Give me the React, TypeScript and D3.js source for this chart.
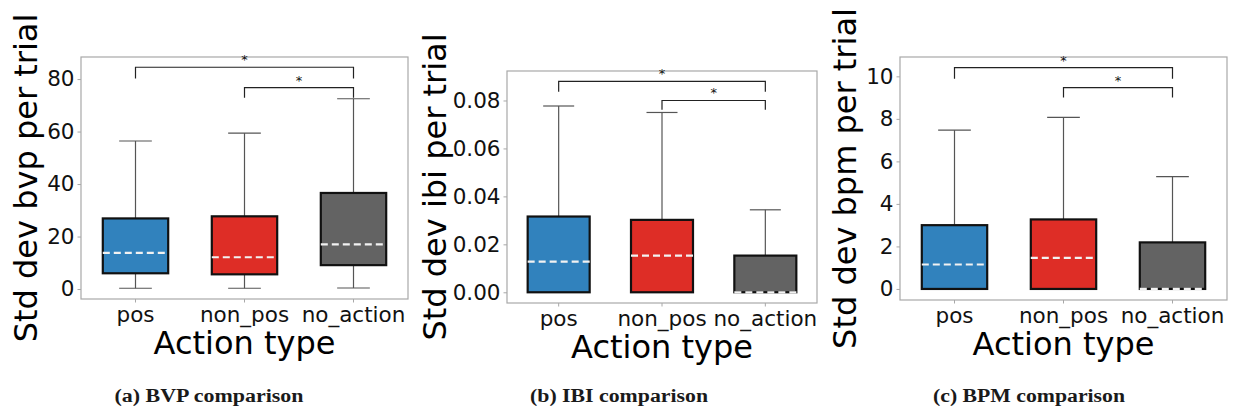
import { useEffect, useRef } from "react";
import { select, scaleBand, scaleLinear, axisLeft, axisBottom } from "d3";

// categories + colours
const categories = ["pos", "non_pos", "no_action"];
const boxColors = ["#3182bd", "#de2d26", "#636363"];

// box stats per category: [low whisker, q1, median, q3, high whisker]
const bvpStats = [
  [0.3, 6.0, 13.8, 26.9, 56.4],
  [0.3, 5.6, 12.1, 27.7, 59.4],
  [0.4, 9.1, 17.0, 36.6, 72.5],
];
const ibiStats = [
  [0, 0, 0.0128, 0.0316, 0.0777],
  [0, 0, 0.0153, 0.0302, 0.075],
  [0, 0, 0, 0.0153, 0.0344],
];
const bpmStats = [
  [0, 0, 1.15, 3.0, 7.47],
  [0, 0, 1.46, 3.27, 8.07],
  [0, 0, 0, 2.19, 5.28],
];

// y ticks
const bvpTicks = [0, 20, 40, 60, 80];
const ibiTicks = [0, 0.02, 0.04, 0.06, 0.08];
const bpmTicks = [0, 2, 4, 6, 8, 10];

// significance brackets: [from, to, bar height, leg bottom]
const bvpBrackets: [string, string, number, number][] = [
  ["pos", "no_action", 84.5, 80.2],
  ["non_pos", "no_action", 76.7, 72.9],
];
const ibiBrackets: [string, string, number, number][] = [
  ["pos", "no_action", 0.088, 0.0836],
  ["non_pos", "no_action", 0.08, 0.0761],
];
const bpmBrackets: [string, string, number, number][] = [
  ["pos", "no_action", 10.41, 9.89],
  ["non_pos", "no_action", 9.47, 9.0],
];

const panels = [
  {
    stats: bvpStats, ticks: bvpTicks, brackets: bvpBrackets,
    domain: [-3.8, 88.4], fmt: (d: number) => String(d),
    box: { l: 81, t: 57, r: 408, b: 299 },
    ylabel: "Std dev bvp per trial", ylabelX: 37,
    caption: "(a) BVP comparison", capX: 209, capW: 189,
  },
  {
    stats: ibiStats, ticks: ibiTicks, brackets: ibiBrackets,
    domain: [-0.00447, 0.0923], fmt: (d: number) => d.toFixed(2),
    box: { l: 507, t: 71, r: 817, b: 303 },
    ylabel: "Std dev ibi per trial", ylabelX: 446,
    caption: "(b) IBI comparison", capX: 619, capW: 178,
  },
  {
    stats: bpmStats, ticks: bpmTicks, brackets: bpmBrackets,
    domain: [-0.52, 10.91], fmt: (d: number) => String(d),
    box: { l: 900, t: 57, r: 1227, b: 300 },
    ylabel: "Std dev bpm per trial", ylabelX: 856,
    caption: "(c) BPM comparison", capX: 1029, capW: 192,
  },
];

const FONT = "'DejaVu Sans', sans-serif";

export default function App() {
  const svgRef = useRef<SVGSVGElement | null>(null);

  useEffect(() => {
    const svg = select(svgRef.current);
    svg.selectAll("*").remove();

    panels.forEach((p) => {
      const { l, t, r, b } = p.box;
      const g = svg.append("g");

      const x = scaleBand().domain(categories).range([l, r]).padding(0);
      const y = scaleLinear().domain(p.domain).range([b, t]);
      const bw = x.bandwidth();
      const cx = (c: string) => x(c)! + bw / 2;
      const boxW = bw * 0.6;

      // frame
      g.append("rect")
        .attr("x", l).attr("y", t)
        .attr("width", r - l).attr("height", b - t)
        .attr("fill", "white").attr("stroke", "#a8a8a8").attr("stroke-width", 1.2);

      // axes
      const ya = g.append("g").attr("transform", `translate(${l},0)`)
        .call(axisLeft(y).tickValues(p.ticks).tickFormat((d) => p.fmt(+d)).tickSize(3.5).tickPadding(3));
      const xa = g.append("g").attr("transform", `translate(0,${b})`)
        .call(axisBottom(x).tickSize(3.5).tickPadding(4));
      [ya, xa].forEach((a) => {
        a.select(".domain").remove();
        a.selectAll("line").attr("stroke", "#a8a8a8");
        a.selectAll("text").attr("font-family", FONT).attr("font-size", 21.5).attr("fill", "#111");
      });

      // boxes
      p.stats.forEach((s, i) => {
        const c = categories[i];
        const xc = cx(c);
        const [lo, q1, med, q3, hi] = s;
        g.append("line").attr("x1", xc).attr("x2", xc).attr("y1", y(q3)).attr("y2", y(hi))
          .attr("stroke", "#555").attr("stroke-width", 1.2);
        g.append("line").attr("x1", xc).attr("x2", xc).attr("y1", y(lo)).attr("y2", y(q1))
          .attr("stroke", "#555").attr("stroke-width", 1.2);
        [lo, hi].forEach((v) => {
          g.append("line").attr("x1", xc - boxW / 4).attr("x2", xc + boxW / 4)
            .attr("y1", y(v)).attr("y2", y(v))
            .attr("stroke", "#555").attr("stroke-width", 1.2);
        });
        g.append("rect")
          .attr("x", xc - boxW / 2).attr("y", y(q3))
          .attr("width", boxW).attr("height", y(q1) - y(q3))
          .attr("fill", boxColors[i]).attr("stroke", "#111").attr("stroke-width", 2.2);
        g.append("line").attr("x1", xc - boxW / 2).attr("x2", xc + boxW / 2)
          .attr("y1", y(med)).attr("y2", y(med))
          .attr("stroke", "#f2f2f2").attr("stroke-width", 2.2).attr("stroke-dasharray", "7,4");
      });

      // significance brackets
      p.brackets.forEach(([a, c2, h, leg]) => {
        const x1 = cx(a), x2 = cx(c2);
        g.append("path")
          .attr("d", `M${x1},${y(leg)}V${y(h)}H${x2}V${y(leg)}`)
          .attr("fill", "none").attr("stroke", "#222").attr("stroke-width", 1.2);
        g.append("text")
          .attr("x", (x1 + x2) / 2).attr("y", y(h) - 3)
          .attr("text-anchor", "middle")
          .attr("font-family", FONT).attr("font-size", 13).attr("fill", "#111")
          .text("*");
      });

      // axis titles
      g.append("text")
        .attr("x", (l + r) / 2).attr("y", b + 55)
        .attr("text-anchor", "middle")
        .attr("font-family", FONT).attr("font-size", 32).attr("fill", "#000")
        .text("Action type");
      g.append("text")
        .attr("transform", `translate(${p.ylabelX},${(t + b) / 2}) rotate(-90)`)
        .attr("text-anchor", "middle")
        .attr("font-family", FONT).attr("font-size", 32).attr("fill", "#000")
        .text(p.ylabel);

      // caption
      g.append("text")
        .attr("x", p.capX - p.capW / 2).attr("y", 401.5)
        .attr("textLength", p.capW).attr("lengthAdjust", "spacingAndGlyphs")
        .attr("font-family", "'Liberation Serif', serif").attr("font-weight", "bold")
        .attr("font-size", 18).attr("fill", "#1a1a1a")
        .text(p.caption);
    });
  }, []);

  return (
    <div style={{ position: "absolute", left: 0, top: 0 }}>
      <svg ref={svgRef} width={1233} height={411} style={{ display: "block", background: "white" }} />
    </div>
  );
}
